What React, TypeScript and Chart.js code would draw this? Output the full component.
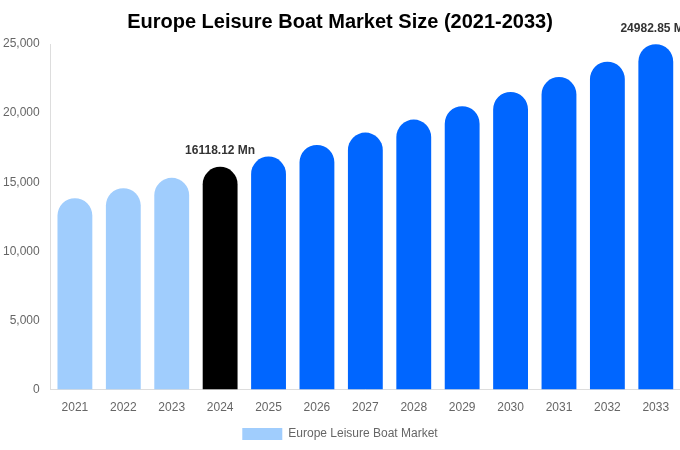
import React, { useRef, useEffect } from 'react';
import { Chart, registerables } from 'chart.js';

Chart.register(...registerables);

const years = ['2021', '2022', '2023', '2024', '2025', '2026', '2027', '2028', '2029', '2030', '2031', '2032', '2033'];
const marketSize = [13850, 14570, 15320, 16118.12, 16860, 17700, 18590, 19530, 20500, 21530, 22610, 23720, 24982.85];
const barColors = [
  '#a0cdfd', '#a0cdfd', '#a0cdfd', '#000000',
  '#0066ff', '#0066ff', '#0066ff', '#0066ff', '#0066ff',
  '#0066ff', '#0066ff', '#0066ff', '#0066ff',
];
const labelledBars = [3, 12];

const valueLabels = {
  id: 'valueLabels',
  afterDatasetsDraw(chart: Chart) {
    const { ctx } = chart;
    const meta = chart.getDatasetMeta(0);
    ctx.save();
    ctx.font = 'bold 12px "Liberation Sans", Arial, sans-serif';
    ctx.fillStyle = '#333333';
    ctx.textAlign = 'center';
    ctx.textBaseline = 'middle';
    labelledBars.forEach((i) => {
      const bar = meta.data[i];
      ctx.fillText(`${marketSize[i]} Mn`, bar.x, bar.y - 16);
    });
    ctx.restore();
  },
};

const App: React.FC = () => {
  const canvasRef = useRef<HTMLCanvasElement>(null);
  const chartRef = useRef<Chart | null>(null);

  useEffect(() => {
    document.body.style.margin = '0';
    const ctx = canvasRef.current?.getContext('2d');
    if (!ctx) return;
    chartRef.current = new Chart(ctx, {
      type: 'bar',
      data: {
        labels: years,
        datasets: [
          {
            label: 'Europe Leisure Boat Market',
            data: marketSize,
            backgroundColor: barColors,
            borderRadius: 18,
            borderSkipped: 'bottom',
          },
        ],
      },
      options: {
        animation: false,
        responsive: true,
        maintainAspectRatio: false,
        layout: { padding: { top: 0, right: 0, bottom: 0, left: 0 } },
        scales: {
          x: {
            grid: { display: false },
            border: { display: true, color: '#dddddd' },
            ticks: { color: '#666666', font: { size: 12, family: '"Liberation Sans", Arial, sans-serif' } },
          },
          y: {
            min: 0,
            max: 25000,
            grid: { display: false },
            border: { display: true, color: '#dddddd' },
            ticks: {
              stepSize: 5000,
              color: '#666666',
              font: { size: 12, family: '"Liberation Sans", Arial, sans-serif' },
            },
          },
        },
        plugins: {
          title: {
            display: true,
            text: 'Europe Leisure Boat Market Size (2021-2033)',
            color: '#000000',
            font: { size: 20, weight: 'bold', family: '"Liberation Sans", Arial, sans-serif' },
            padding: { top: 10, bottom: 10 },
          },
          legend: {
            position: 'bottom',
            labels: {
              color: '#666666',
              boxWidth: 40,
              boxHeight: 12,
              font: { size: 12, family: '"Liberation Sans", Arial, sans-serif' },
              generateLabels: (chart: Chart) => [
                {
                  text: chart.data.datasets[0].label as string,
                  fillStyle: barColors[0],
                  strokeStyle: barColors[0],
                  fontColor: '#666666',
                  lineWidth: 0,
                  datasetIndex: 0,
                  hidden: false,
                },
              ],
            },
          },
          tooltip: { enabled: false },
        },
      },
      plugins: [valueLabels],
    });
    return () => {
      chartRef.current?.destroy();
      chartRef.current = null;
    };
  }, []);

  return (
    <div style={{ position: 'relative', width: 680, height: 450 }}>
      <canvas ref={canvasRef} />
    </div>
  );
};

export default App;
